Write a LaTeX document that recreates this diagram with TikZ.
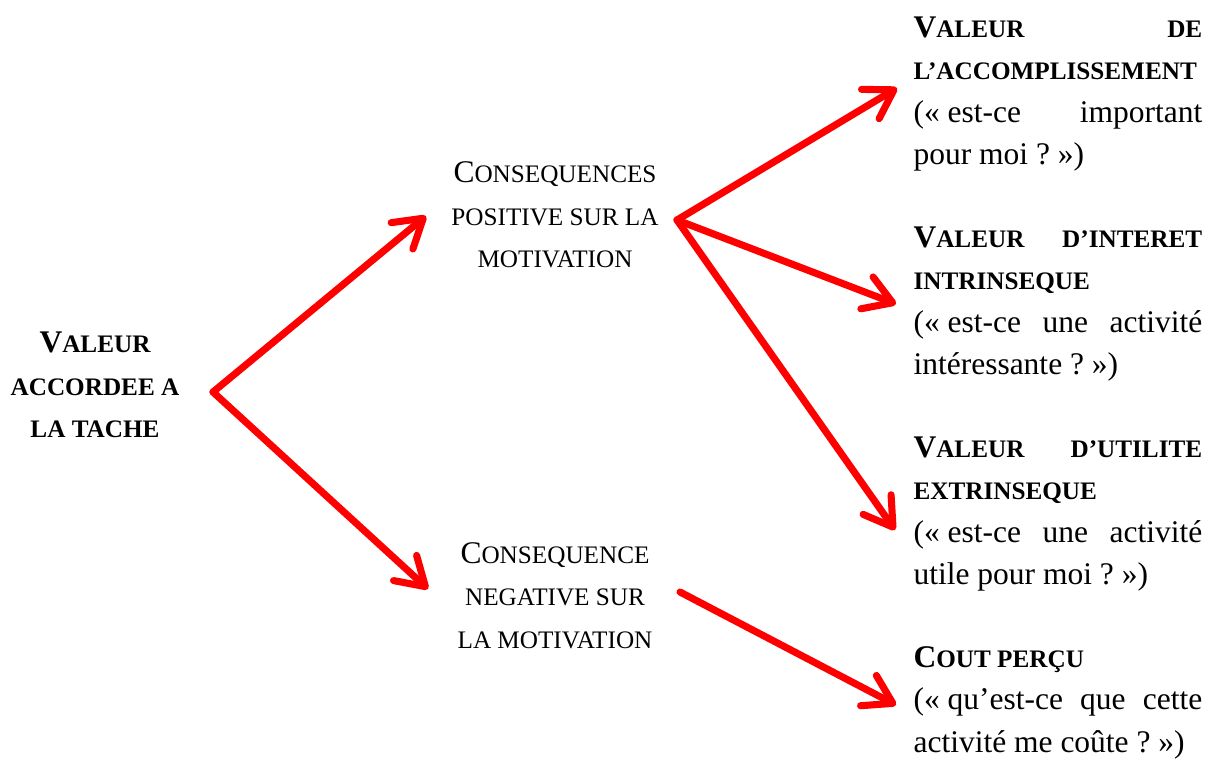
\documentclass[tikz,border=0pt]{standalone}
\usepackage{fontspec}
\setmainfont{Liberation Serif}
\usetikzlibrary{arrows.meta,positioning}
\newcommand{\petitcap}[1]{{\fontsize{9.6}{16.2}\selectfont #1}}
\newcommand{\ouvre}{(«\kern3pt}
\tikzstyle{valeur} = [inner sep=0pt, align=center, font=\fontsize{12}{16.2}\selectfont\bfseries]
\tikzstyle{consequence} = [inner sep=0pt, align=center, font=\fontsize{12}{16.2}\selectfont]
\tikzstyle{composante} = [inner sep=0pt, text width=110pt, align=justify, font=\fontsize{12}{16.2}\selectfont]
\tikzstyle{fleche} = [draw=red, line width=2.7pt, line cap=round, line join=round, -{Straight Barb[length=10.5pt,width=13pt,round]}]

\begin{document}
\begin{tikzpicture}[x=0.381pt, y=-0.381pt]
    \useasboundingbox (0,0) rectangle (1212,758);
    % Valeur
    \node [valeur] (valeur) at (95,385) {V\petitcap{ALEUR}\\\petitcap{ACCORDEE A}\\\petitcap{LA TACHE}};
    \coordinate (split) at (213,392);
    % Consequences
    \node [consequence] (positive) at (555,215) {C\petitcap{ONSEQUENCES}\\\petitcap{POSITIVE SUR LA}\\\petitcap{MOTIVATION}};
    \node [consequence, below of=positive, node distance=145pt] (negative) {C\petitcap{ONSEQUENCE}\\\petitcap{NEGATIVE SUR}\\\petitcap{LA MOTIVATION}};
    \coordinate (tip_pos) at (426,216);
    \coordinate (tip_neg) at (428,589);
    \coordinate (fork) at (677,220);
    \coordinate (start_neg) at (680,592);
    % Composantes
    \node [composante, anchor=north west] (accomplissement) at (913,16) {{\bfseries V\petitcap{ALEUR} \petitcap{DE}\linebreak \petitcap{L’ACCOMPLISSEMENT}}\newline \ouvre est-ce important\linebreak pour moi~?~»)};
    \node [composante, below of=accomplissement, node distance=80pt] (interet) {{\bfseries V\petitcap{ALEUR} \petitcap{D’INTERET}\linebreak \petitcap{INTRINSEQUE}}\newline \ouvre est-ce une activité\linebreak intéressante~?~»)};
    \node [composante, below of=interet, node distance=80pt] (utilite) {{\bfseries V\petitcap{ALEUR} \petitcap{D’UTILITE}\linebreak \petitcap{EXTRINSEQUE}}\newline \ouvre est-ce une activité\linebreak utile pour moi~?~»)};
    \node [composante, below of=utilite, node distance=72pt] (cout) {{\bfseries C\petitcap{OUT PERÇU}}\newline \ouvre qu’est-ce que cette\linebreak activité me coûte~?~»)};
    \coordinate (tip_acc) at (897,88);
    \coordinate (tip_int) at (896,304);
    \coordinate (tip_uti) at (895,530);
    \coordinate (tip_cout) at (896,705);

    % Connections
    \draw [fleche] (split) -- (tip_pos);
    \draw [fleche] (split) -- (tip_neg);
    \draw [fleche] (fork) -- (tip_acc);
    \draw [fleche] (fork) -- (tip_int);
    \draw [fleche] (fork) -- (tip_uti);
    \draw [fleche] (start_neg) -- (tip_cout);
\end{tikzpicture}
\end{document}
